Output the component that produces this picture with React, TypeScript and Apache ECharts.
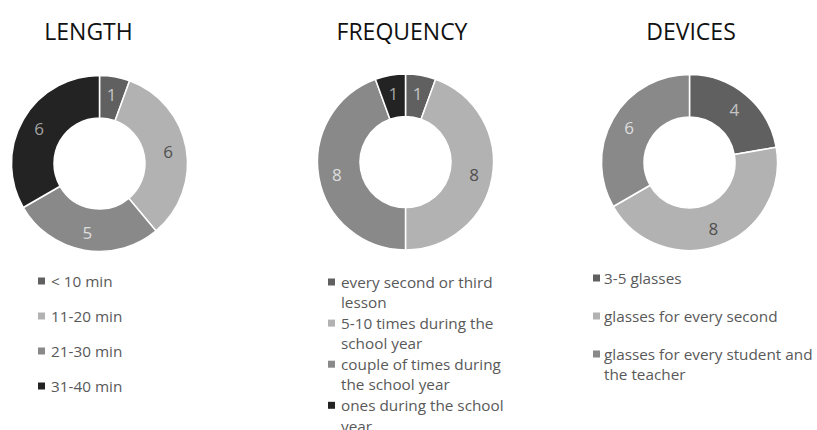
import React, { useEffect, useRef } from "react";
import * as echarts from "echarts";

const titles = ["LENGTH", "FREQUENCY", "DEVICES"];

const lengthCategories = ["< 10 min", "11-20 min", "21-30 min", "31-40 min"];
const lengthValues = [1, 6, 5, 6];

const frequencyCategories = [
  "every second or third lesson",
  "5-10 times during the school year",
  "couple of times during the school year",
  "ones during the school year",
];
const frequencyLabels = [
  "every second or third\nlesson",
  "5-10 times during the\nschool year",
  "couple of times during\nthe school year",
  "ones during the school\nyear",
];
const frequencyValues = [1, 8, 8, 1];

const devicesCategories = [
  "3-5 glasses",
  "glasses for every second",
  "glasses for every student and the teacher",
];
const devicesLabels = [
  "3-5 glasses",
  "glasses for every second",
  "glasses for every student and\nthe teacher",
];
const devicesValues = [4, 8, 6];

const sliceColors = ["#606060", "#b2b2b2", "#898989", "#232323"];
const labelColors = ["#c4c4c4", "#505050", "#dedede", "#a2a2a2"];

const FONT = "'Open Sans', 'Noto Sans', sans-serif";

type ChartDef = {
  title: string;
  names: string[];
  labels: string[];
  values: number[];
  cx: number;
  cy: number;
  titleX: number;
  markerX: number;
  textX: number;
  legendY0: number;
  lineH: number;
  gap: number;
};

const charts: ChartDef[] = [
  {
    title: titles[0],
    names: lengthCategories,
    labels: lengthCategories,
    values: lengthValues,
    cx: 99.5,
    cy: 163.5,
    titleX: 88.5,
    markerX: 38,
    textX: 51,
    legendY0: 281,
    lineH: 20,
    gap: 15,
  },
  {
    title: titles[1],
    names: frequencyCategories,
    labels: frequencyLabels,
    values: frequencyValues,
    cx: 405.5,
    cy: 162,
    titleX: 402,
    markerX: 328,
    textX: 341,
    legendY0: 282,
    lineH: 20.3,
    gap: 0.5,
  },
  {
    title: titles[2],
    names: devicesCategories,
    labels: devicesLabels,
    values: devicesValues,
    cx: 689.5,
    cy: 162.5,
    titleX: 691,
    markerX: 593,
    textX: 604,
    legendY0: 278,
    lineH: 20,
    gap: 18,
  },
];

export default function App() {
  const ref = useRef<HTMLDivElement>(null);

  useEffect(() => {
    if (!ref.current) return;
    const chart = echarts.init(ref.current, undefined, { renderer: "svg" });

    const series: any[] = charts.map((c) => ({
      type: "pie",
      name: c.title,
      center: [c.cx, c.cy],
      radius: [45.5, 88],
      startAngle: 90,
      clockwise: true,
      avoidLabelOverlap: false,
      silent: true,
      itemStyle: { borderColor: "#ffffff", borderWidth: 1.5 },
      label: {
        show: true,
        position: "inside",
        formatter: "{c}",
        fontFamily: FONT,
        fontSize: 17,
      },
      labelLine: { show: false },
      data: c.values.map((v, i) => ({
        name: c.names[i],
        value: v,
        itemStyle: { color: sliceColors[i] },
        label: { color: labelColors[i] },
      })),
    }));

    const graphics: any[] = [];
    charts.forEach((c) => {
      graphics.push({
        type: "text",
        x: c.titleX,
        y: 31,
        style: {
          text: c.title,
          fontFamily: FONT,
          fontSize: 23,
          fill: "#111111",
          align: "center",
          verticalAlign: "middle",
        },
      });
      let y = c.legendY0;
      c.labels.forEach((lab, i) => {
        const lines = lab.split("\n").length;
        graphics.push({
          type: "rect",
          shape: { x: c.markerX, y: y - 3.5, width: 7, height: 7 },
          style: { fill: sliceColors[i] },
        });
        graphics.push({
          type: "text",
          x: c.textX,
          y: y - c.lineH / 2,
          style: {
            text: lab,
            fontFamily: FONT,
            fontSize: 15.3,
            lineHeight: c.lineH,
            fill: "#595959",
            align: "left",
            verticalAlign: "top",
          },
        });
        y += lines * c.lineH + c.gap;
      });
    });

    chart.setOption({
      animation: false,
      backgroundColor: "#ffffff",
      series,
      graphic: graphics,
    });

    return () => chart.dispose();
  }, []);

  return (
    <div
      ref={ref}
      style={{ position: "fixed", left: 0, top: 0, width: 817, height: 430 }}
    />
  );
}
